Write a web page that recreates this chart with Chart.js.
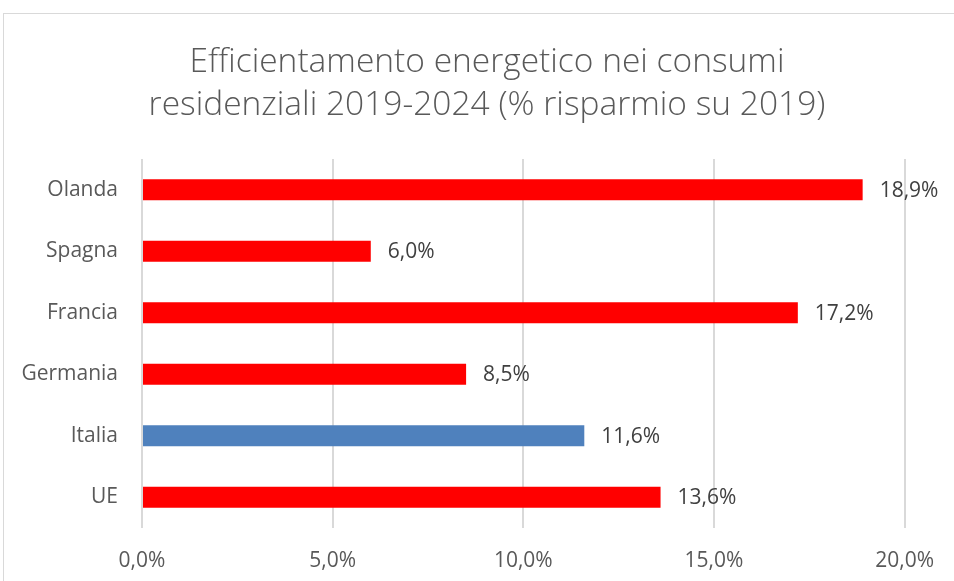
<!DOCTYPE html>
<html>
<head>
<meta charset="utf-8">
<script src="https://cdn.jsdelivr.net/npm/chart.js@4"></script>
<style>
  html, body { margin: 0; padding: 0; background: #fff; }
  #wrap { width: 954px; height: 581px; }
</style>
</head>
<body>
<div id="wrap"><canvas id="efficChart"></canvas></div>
<script>
// Data
const countries = ['Olanda', 'Spagna', 'Francia', 'Germania', 'Italia', 'UE'];
const savings = [18.9, 6.0, 17.2, 8.5, 11.6, 13.6];
const highlight = 'Italia';
const xTicks = [0, 5, 10, 15, 20];

const titleLines = [
    'Efficientamento energetico nei consumi',
    'residenziali 2019-2024 (% risparmio su 2019)'
];

function fmtPct(v) {
    return v.toFixed(1).replace('.', ',') + '%';
}

const FONT = "'Open Sans', sans-serif";

// outer frame + title, drawn by hand so the title sits centred on the frame
const framePlugin = {
    id: 'frame',
    beforeDraw(chart) {
        const ctx = chart.ctx;
        ctx.save();
        ctx.strokeStyle = '#d9d9d9';
        ctx.lineWidth = 1;
        ctx.strokeRect(3.5, 13.5, 2000, 2000);
        ctx.fillStyle = '#595959';
        ctx.font = '300 33.5px ' + FONT;
        ctx.textAlign = 'center';
        ctx.textBaseline = 'middle';
        ctx.fillText(titleLines[0], 487, 62);
        ctx.fillText(titleLines[1], 487, 105);
        ctx.restore();
    }
};

// value labels at the end of each bar
const valueLabels = {
    id: 'valueLabels',
    afterDatasetsDraw(chart) {
        const ctx = chart.ctx;
        const meta = chart.getDatasetMeta(0);
        ctx.save();
        ctx.font = '21px ' + FONT;
        ctx.fillStyle = '#404040';
        ctx.textAlign = 'left';
        ctx.textBaseline = 'middle';
        meta.data.forEach((bar, i) => {
            ctx.fillText(fmtPct(savings[i]), bar.x + 17, bar.y + 1);
        });
        ctx.restore();
    }
};

document.addEventListener('DOMContentLoaded', function() {
    new Chart(document.getElementById('efficChart'), {
        type: 'bar',
        data: {
            labels: countries,
            datasets: [{
                data: savings,
                backgroundColor: countries.map(c => c === highlight ? '#4f81bd' : '#ff0000'),
                borderWidth: 0,
                categoryPercentage: 1,
                barPercentage: 0.34
            }]
        },
        options: {
            indexAxis: 'y',
            responsive: true,
            maintainAspectRatio: false,
            animation: false,
            layout: {
                padding: { left: 0, right: 44, top: 159, bottom: 0 }
            },
            plugins: {
                legend: { display: false },
                tooltip: { enabled: false },
                title: { display: false }
            },
            scales: {
                x: {
                    min: 0,
                    max: 20,
                    afterBuildTicks(scale) {
                        scale.ticks = xTicks.map(v => ({ value: v }));
                    },
                    afterFit(scale) { scale.height = 53; },
                    grid: { color: '#d9d9d9', lineWidth: 2, drawTicks: false },
                    border: { display: false },
                    ticks: {
                        color: '#595959',
                        padding: 20,
                        font: { size: 21, family: FONT },
                        callback: v => fmtPct(v)
                    }
                },
                y: {
                    afterFit(scale) { scale.width = 142; },
                    grid: { display: false, drawTicks: false },
                    border: { display: false },
                    ticks: {
                        color: '#595959',
                        padding: 24,
                        font: { size: 21, family: FONT }
                    }
                }
            }
        },
        plugins: [framePlugin, valueLabels]
    });
});
</script>
</body>
</html>
